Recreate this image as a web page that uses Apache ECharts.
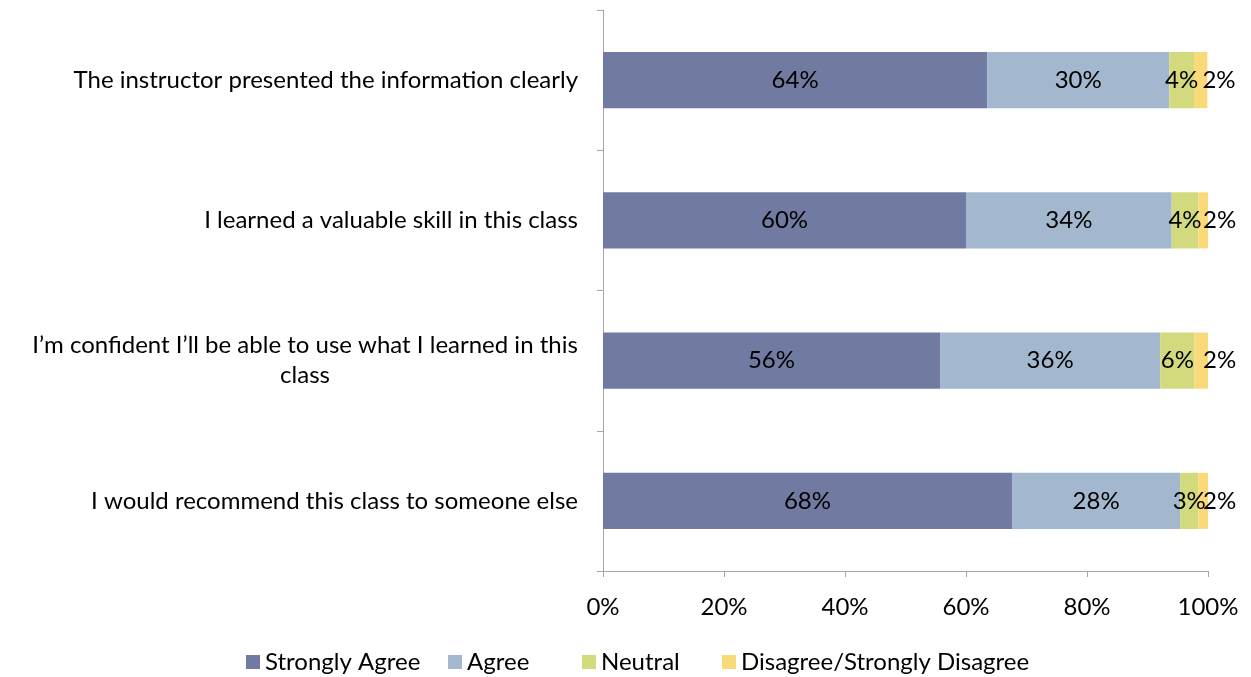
<!DOCTYPE html>
<html>
<head>
<meta charset="utf-8">
<script src="https://cdn.jsdelivr.net/npm/echarts@6/dist/echarts.min.js"></script>
<style>
html,body{margin:0;padding:0;background:#fff;}
#chart{width:1251px;height:677px;}
</style>
</head>
<body>
<div id="chart"></div>
<script>
var categories = [
  "The instructor presented the information clearly",
  "I learned a valuable skill in this class",
  "I\u2019m confident I\u2019ll be able to use what I learned in this\nclass",
  "I would recommend this class to someone else"
];
var seriesNames = ["Strongly Agree", "Agree", "Neutral", "Disagree/Strongly Disagree"];
var stronglyAgree = [63.5, 60.0, 55.7, 67.6];
var agree = [30.1, 34.0, 36.4, 27.8];
var neutral = [4.1, 4.4, 5.7, 3.0];
var disagree = [2.2, 1.6, 2.2, 1.7];
var xTicks = [0, 20, 40, 60, 80, 100];
var colors = ["#717BA2", "#A3B8CF", "#D3DA7E", "#F9D978"];

var FONT = "Lato";
var FS = 24;

var cv = document.createElement('canvas').getContext('2d');
cv.font = FS + 'px ' + FONT;
function measure(t){ return cv.measureText(t).width; }

var chart = echarts.init(document.getElementById('chart'));

var catRich = { w: { align: 'center', width: 500, fontFamily: FONT, fontSize: FS, color: '#000', lineHeight: 30 } };
function catFormatter(v){
  if (v.indexOf('\n') < 0) return v;
  var lines = v.split('\n');
  var w = 0;
  lines.forEach(function(l){ w = Math.max(w, measure(l)); });
  catRich.w.width = Math.ceil(w);
  return lines.map(function(l){ return '{w|' + l + '}'; }).join('\n');
}
categories.forEach(catFormatter);

var seriesData = [stronglyAgree, agree, neutral, disagree];
var series = seriesData.map(function(d, i){
  var isLast = i === 3;
  return {
    name: seriesNames[i],
    type: 'bar',
    stack: 'total',
    barCategoryGap: '60%',
    data: d,
    itemStyle: { color: colors[i] },
    label: {
      show: true,
      position: isLast ? 'right' : 'inside',
      distance: isLast ? -5 : 5,
      formatter: function(p){ return Math.round(p.value) + '%'; },
      fontFamily: FONT,
      fontSize: FS,
      color: '#000'
    },
    emphasis: { disabled: true },
    animation: false
  };
});

var legendLefts = [241, 443, 577, 717];
var legends = seriesNames.map(function(n, i){
  return {
    left: legendLefts[i], top: 645,
    itemWidth: 14, itemHeight: 14,
    icon: 'rect',
    selectedMode: false,
    textStyle: { fontFamily: FONT, fontSize: FS, color: '#000' },
    data: [n]
  };
});

chart.setOption({
  animation: false,
  grid: { left: 603, right: 43, top: 10, bottom: 106, containLabel: false },
  xAxis: {
    type: 'value',
    min: 0, max: 100, interval: 20,
    axisLine: { show: true, lineStyle: { color: '#A6A6A6', width: 1 } },
    axisTick: { show: true, length: 6, lineStyle: { color: '#A6A6A6' } },
    splitLine: { show: false },
    axisLabel: { margin: 24, fontFamily: FONT, fontSize: FS, color: '#000', formatter: function(v){ return v + '%'; } }
  },
  yAxis: {
    type: 'category',
    inverse: true,
    data: categories,
    axisLine: { show: true, lineStyle: { color: '#A6A6A6', width: 1 } },
    axisTick: { show: true, length: 6, lineStyle: { color: '#A6A6A6' } },
    axisLabel: { margin: 25, fontFamily: FONT, fontSize: FS, color: '#000', lineHeight: 30, formatter: catFormatter, rich: catRich }
  },
  legend: legends,
  series: series
});
</script>
</body>
</html>
